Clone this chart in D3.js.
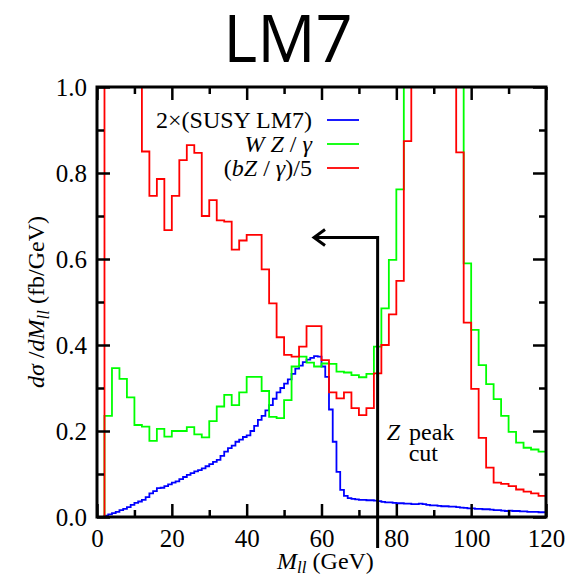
<!DOCTYPE html>
<html>
<head>
<meta charset="utf-8">
<script src="https://cdn.jsdelivr.net/npm/d3@7"></script>
<style>
  body { margin: 0; background: #fff; }
  svg { display: block; }
</style>
</head>
<body>
<div id="wrapper"></div>
<script>
// bin edges in GeV
const susyBinWidth = 1
const bgBinWidth = 2

// 2 x (SUSY LM7), 1 GeV bins from 0 to 120
const susyValues = [
  0, 0, 0.003, 0.006, 0.009, 0.012, 0.016, 0.019, 0.023, 0.028,
  0.033, 0.036, 0.040, 0.046, 0.055, 0.060, 0.067, 0.068, 0.072, 0.076,
  0.080, 0.083, 0.088, 0.093, 0.098, 0.102, 0.106, 0.109, 0.113, 0.118,
  0.123, 0.128, 0.133, 0.142, 0.152, 0.160, 0.166, 0.175, 0.180, 0.186,
  0.190, 0.200, 0.212, 0.226, 0.235, 0.248, 0.260, 0.275, 0.290, 0.300,
  0.310, 0.320, 0.333, 0.345, 0.352, 0.360, 0.366, 0.370, 0.374, 0.373,
  0.350, 0.326, 0.250, 0.175, 0.105, 0.063, 0.049, 0.044, 0.042, 0.041,
  0.040, 0.040, 0.039, 0.039, 0.038, 0.037, 0.035, 0.034, 0.034, 0.033,
  0.032, 0.032, 0.031, 0.031, 0.030, 0.030, 0.031, 0.030, 0.028, 0.027,
  0.027, 0.026, 0.025, 0.025, 0.024, 0.024, 0.023, 0.022, 0.021, 0.020,
  0.020, 0.019, 0.019, 0.018, 0.018, 0.017, 0.016, 0.016, 0.015, 0.014,
  0.015, 0.014, 0.014, 0.013, 0.013, 0.012, 0.012, 0.012, 0.011, 0.011
]

// WZ/gamma, 2 GeV bins (off-scale bins set to 1.5)
const wzValues = [
  0, 0.235, 0.346, 0.321, 0.278, 0.214, 0.210, 0.177, 0.205, 0.187,
  0.200, 0.200, 0.209, 0.192, 0.185, 0.223, 0.257, 0.284, 0.260, 0.290,
  0.326, 0.326, 0.293, 0.233, 0.230, 0.272, 0.350, 0.373, 0.359, 0.350,
  0.357, 0.356, 0.338, 0.336, 0.330, 0.325, 0.333, 0.396, 0.485, 0.598,
  0.762, 1.5, 1.5, 1.5, 1.5, 1.5, 1.5, 1.5, 1.5, 0.590,
  0.435, 0.353, 0.309, 0.274, 0.235, 0.198, 0.173, 0.161, 0.157, 0.152
]

// (bZ/gamma)/5, 2 GeV bins (off-scale bins set to 1.5)
const bzValues = [
  0, 1.5, 1.5, 1.5, 1.5, 1.5, 0.850, 0.747, 0.786, 0.667,
  0.747, 0.830, 0.865, 0.847, 0.700, 0.737, 0.690, 0.687, 0.622, 0.643,
  0.656, 0.656, 0.576, 0.497, 0.418, 0.377, 0.373, 0.396, 0.444, 0.444,
  0.365, 0.290, 0.276, 0.290, 0.253, 0.237, 0.253, 0.334, 0.400, 0.471,
  0.549, 0.874, 1.5, 1.5, 1.5, 1.5, 1.5, 1.5, 0.848, 0.452,
  0.298, 0.184, 0.115, 0.080, 0.077, 0.072, 0.064, 0.059, 0.055, 0.049
]

const seriesNames = ["2×(SUSY LM7)", "WZ/γ", "(bZ/γ)/5"]
const seriesColors = ["#0000ff", "#00ff00", "#ff0000"]

const xTicksMajor = [0, 20, 40, 60, 80, 100, 120]
const xTicksMinor = [10, 30, 50, 70, 90, 110]
const yTicksMajor = [0, 0.2, 0.4, 0.6, 0.8, 1.0]
const yTicksMinor = [0.1, 0.3, 0.5, 0.7, 0.9]

// Z peak cut annotation (data space)
const zCut = 75
const arrowLevel = 0.65
const arrowTip = 58

let dimensions = {
  width: 576,
  height: 577,
  margin: { top: 87, right: 30, bottom: 60, left: 97 },
}
dimensions.boundedWidth = dimensions.width - dimensions.margin.left - dimensions.margin.right
dimensions.boundedHeight = dimensions.height - dimensions.margin.top - dimensions.margin.bottom

const wrapper = d3.select("#wrapper")
  .append("svg")
    .attr("width", dimensions.width)
    .attr("height", dimensions.height)

const serif = "'Liberation Serif', 'Times New Roman', serif"

wrapper.append("text")
  .attr("x", dimensions.width / 2)
  .attr("y", 62)
  .attr("text-anchor", "middle")
  .style("font-family", "'Open Sans', sans-serif")
  .style("font-size", "65px")
  .text("LM7")

const bounds = wrapper.append("g")
  .attr("transform", `translate(${dimensions.margin.left},${dimensions.margin.top})`)

const xScale = d3.scaleLinear()
  .domain([0, 120])
  .range([0, dimensions.boundedWidth])

const yScale = d3.scaleLinear()
  .domain([0, 1])
  .range([dimensions.boundedHeight, 0])

bounds.append("clipPath")
  .attr("id", "plot-clip")
  .append("rect")
    .attr("width", dimensions.boundedWidth)
    .attr("height", dimensions.boundedHeight)

const toSteps = (values, width) => {
  const pts = values.map((v, i) => [i * width, v])
  pts.push([values.length * width, values[values.length - 1]])
  return pts
}

const lineGenerator = d3.line()
  .x(d => xScale(d[0]))
  .y(d => yScale(d[1]))
  .curve(d3.curveStepAfter)

const series = [
  toSteps(susyValues, susyBinWidth),
  toSteps(wzValues, bgBinWidth),
  toSteps(bzValues, bgBinWidth),
]

const plot = bounds.append("g").attr("clip-path", "url(#plot-clip)")
series.forEach((s, i) => {
  plot.append("path")
    .datum(s)
    .attr("d", lineGenerator)
    .attr("fill", "none")
    .attr("stroke", seriesColors[i])
    .attr("stroke-width", 1.8)
})

// axes with inward ticks
const styleAxis = g => {
  g.select(".domain").remove()
  g.selectAll(".tick line").attr("stroke", "#000").attr("stroke-width", 2.5)
  g.selectAll("text")
    .style("font-family", serif)
    .style("font-size", "25px")
    .attr("fill", "#000")
}

bounds.append("g")
  .attr("transform", `translate(0,${dimensions.boundedHeight})`)
  .call(d3.axisBottom(xScale).tickValues(xTicksMajor).tickSize(-13).tickPadding(12).tickFormat(d3.format("d")))
  .call(styleAxis)
bounds.append("g")
  .attr("transform", `translate(0,${dimensions.boundedHeight})`)
  .call(d3.axisBottom(xScale).tickValues(xTicksMinor).tickSize(-7).tickFormat(""))
  .call(styleAxis)
bounds.append("g")
  .call(d3.axisTop(xScale).tickValues(xTicksMajor).tickSize(-13).tickFormat(""))
  .call(styleAxis)
bounds.append("g")
  .call(d3.axisTop(xScale).tickValues(xTicksMinor).tickSize(-7).tickFormat(""))
  .call(styleAxis)

bounds.append("g")
  .call(d3.axisLeft(yScale).tickValues(yTicksMajor).tickSize(-13).tickPadding(10).tickFormat(d3.format(".1f")))
  .call(styleAxis)
bounds.append("g")
  .call(d3.axisLeft(yScale).tickValues(yTicksMinor).tickSize(-7).tickFormat(""))
  .call(styleAxis)
bounds.append("g")
  .attr("transform", `translate(${dimensions.boundedWidth},0)`)
  .call(d3.axisRight(yScale).tickValues(yTicksMajor).tickSize(-13).tickFormat(""))
  .call(styleAxis)
bounds.append("g")
  .attr("transform", `translate(${dimensions.boundedWidth},0)`)
  .call(d3.axisRight(yScale).tickValues(yTicksMinor).tickSize(-7).tickFormat(""))
  .call(styleAxis)

bounds.append("rect")
  .attr("width", dimensions.boundedWidth)
  .attr("height", dimensions.boundedHeight)
  .attr("fill", "none")
  .attr("stroke", "#000")
  .attr("stroke-width", 3)

// Z peak cut line with arrow
const cutPath = d3.path()
cutPath.moveTo(xScale(zCut), dimensions.boundedHeight + 31)
cutPath.lineTo(xScale(zCut), yScale(arrowLevel))
cutPath.lineTo(xScale(arrowTip), yScale(arrowLevel))
bounds.append("path")
  .attr("d", cutPath.toString())
  .attr("fill", "none")
  .attr("stroke", "#000")
  .attr("stroke-width", 3)

const head = d3.path()
head.moveTo(xScale(arrowTip) + 11, yScale(arrowLevel) - 8)
head.lineTo(xScale(arrowTip), yScale(arrowLevel))
head.lineTo(xScale(arrowTip) + 11, yScale(arrowLevel) + 8)
bounds.append("path")
  .attr("d", head.toString())
  .attr("fill", "none")
  .attr("stroke", "#000")
  .attr("stroke-width", 3)

const zLabel = bounds.append("text")
  .attr("x", xScale(zCut) + 9)
  .attr("y", yScale(0.18))
  .style("font-family", serif)
  .style("font-size", "24px")
zLabel.append("tspan").style("font-style", "italic").text("Z")
zLabel.append("tspan").attr("dx", 9).text("peak")
bounds.append("text")
  .attr("x", xScale(zCut) + 31)
  .attr("y", yScale(0.13))
  .style("font-family", serif)
  .style("font-size", "24px")
  .text("cut")

// legend
const legendRows = [
  [{ t: "2×(SUSY LM7)" }],
  [{ t: "W", i: true }, { t: " Z", i: true }, { t: " / ", i: false }, { t: "γ", i: true }],
  [{ t: "(" }, { t: "b", i: true }, { t: "Z", i: true }, { t: " / " }, { t: "γ", i: true }, { t: ")/5" }],
]
const legend = bounds.append("g")
legendRows.forEach((row, i) => {
  const yPos = 33 + i * 24
  const label = legend.append("text")
    .attr("x", 215)
    .attr("y", yPos + 8)
    .attr("text-anchor", "end")
    .style("font-family", serif)
    .style("font-size", "24px")
  row.forEach(part => {
    label.append("tspan")
      .style("font-style", part.i ? "italic" : "normal")
      .text(part.t)
  })
  legend.append("line")
    .attr("x1", 230)
    .attr("x2", 262)
    .attr("y1", yPos)
    .attr("y2", yPos)
    .attr("stroke", seriesColors[i])
    .attr("stroke-width", 1.8)
})

// axis titles
const xLabel = wrapper.append("text")
  .attr("x", dimensions.margin.left + dimensions.boundedWidth / 2 + 4)
  .attr("y", 569)
  .attr("text-anchor", "middle")
  .style("font-family", serif)
  .style("font-size", "24px")
xLabel.append("tspan").style("font-style", "italic").text("M")
xLabel.append("tspan").style("font-style", "italic").style("font-size", "17px").attr("dy", 4).text("ll")
xLabel.append("tspan").attr("dy", -4).text(" (GeV)")

const yLabel = wrapper.append("text")
  .attr("transform", `translate(44,${dimensions.margin.top + dimensions.boundedHeight / 2}) rotate(-90)`)
  .attr("text-anchor", "middle")
  .style("font-family", serif)
  .style("font-size", "24px")
yLabel.append("tspan").style("font-style", "italic").text("dσ")
yLabel.append("tspan").text(" /")
yLabel.append("tspan").style("font-style", "italic").text("dM")
yLabel.append("tspan").style("font-style", "italic").style("font-size", "17px").attr("dy", 5).text("ll")
yLabel.append("tspan").attr("dy", -5).text(" (fb/GeV)")
</script>
</body>
</html>
